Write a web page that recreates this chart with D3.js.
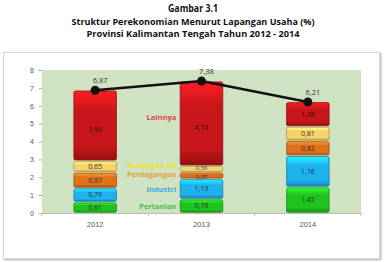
<!DOCTYPE html>
<html lang="id">
<head>
  <meta charset="UTF-8">
  <title>Struktur Perekonomian Kalimantan Tengah 2012 - 2014</title>
  <script src="https://d3js.org/d3.v7.min.js"></script>
  <style>
    body { margin: 0; background: #fff; }
    svg { display: block; font-family: "Open Sans", "Noto Sans", sans-serif; }
  </style>
</head>
<body>
<svg width="386" height="262"></svg>
<script>
  // data
  const years = ["2012", "2013", "2014"];
  const sectors = ["Pertanian", "Industri", "Perdagangan", "Keuangan dll", "Lainnya"];
  const pertanian = [0.61, 0.78, 1.45];
  const industri = [0.79, 1.13, 1.76];
  const perdagangan = [0.87, 0.37, 0.82];
  const keuangan = [0.65, 0.36, 0.81];
  const lainnya = [3.95, 4.74, 1.38];
  const totals = [6.87, 7.38, 6.21];
  const yTicks = [0, 1, 2, 3, 4, 5, 6, 7, 8];
  const colors = ["#1fc31f", "#1cb2ee", "#e0701c", "#f4d36a", "#c8161a"];
  const labelColors = ["#45c445", "#3fa9df", "#e2a336", "#f2e21a", "#e04848"];

  const svg = d3.select("svg");
  const margin = { top: 70, right: 25, bottom: 49, left: 42 };
  const width = +svg.attr("width");
  const height = +svg.attr("height");

  // chart frame with soft shadow
  const defs = svg.append("defs");
  const sh = defs.append("filter").attr("id", "shadow").attr("x", "-5%").attr("y", "-5%").attr("width", "110%").attr("height", "110%");
  sh.append("feDropShadow").attr("dx", 1).attr("dy", 1).attr("stdDeviation", 1).attr("flood-color", "#000").attr("flood-opacity", 0.35);
  svg.append("rect")
    .attr("x", 3.5).attr("y", 52.5).attr("width", 376).attr("height", 206)
    .attr("fill", "#fff").attr("stroke", "#d8d8d8").attr("filter", "url(#shadow)");

  // titles
  const titles = [
    { t: "Gambar 3.1", y: 12, size: 11, len: 50 },
    { t: "Struktur Perekonomian Menurut Lapangan Usaha (%)", y: 25, size: 9.5, len: 243 },
    { t: "Provinsi Kalimantan Tengah Tahun 2012 - 2014", y: 37, size: 9.5, len: 213 }
  ];
  titles.forEach(d => {
    svg.append("text")
      .attr("x", width / 2).attr("y", d.y)
      .attr("text-anchor", "middle")
      .attr("font-weight", "bold")
      .attr("font-size", d.size)
      .attr("fill", "#111")
      .attr("textLength", d.len)
      .attr("lengthAdjust", "spacingAndGlyphs")
      .text(d.t);
  });

  const x = d3.scaleBand()
    .domain(years)
    .range([margin.left, width - margin.right])
    .paddingInner(0.6).paddingOuter(0.3);

  const y = d3.scaleLinear()
    .domain([0, 8])
    .range([height - margin.bottom, margin.top]);

  // plot area
  svg.append("rect")
    .attr("x", margin.left).attr("y", margin.top)
    .attr("width", width - margin.right - margin.left)
    .attr("height", y(0) - margin.top)
    .attr("fill", "#cfe2c1");

  // y axis
  const yAxis = svg.append("g")
    .attr("transform", `translate(${margin.left},0)`)
    .call(d3.axisLeft(y).tickValues(yTicks).tickSize(3).tickPadding(5));
  yAxis.select(".domain").remove();
  yAxis.selectAll("line").attr("stroke", "#aaa");
  yAxis.selectAll("text").attr("font-size", 7).attr("fill", "#555");

  // x axis, ticks on category boundaries
  const xAxis = svg.append("g")
    .attr("transform", `translate(0,${y(0)})`)
    .call(d3.axisBottom(x).tickSize(0).tickPadding(9));
  xAxis.select(".domain").attr("stroke", "#bbb");
  xAxis.selectAll("text").attr("font-size", 7.5).attr("fill", "#555");
  const step = x.step();
  const bounds = [margin.left, margin.left + step * 1.0, margin.left + step * 2.0, width - margin.right];
  xAxis.selectAll(".bound").data(bounds).enter().append("line")
    .attr("x1", d => d).attr("x2", d => d).attr("y1", 0).attr("y2", 3)
    .attr("stroke", "#bbb");

  // bevel gradients
  colors.forEach((c, i) => {
    const g = defs.append("linearGradient").attr("id", "g" + i)
      .attr("x1", 0).attr("y1", 0).attr("x2", 0).attr("y2", 1);
    g.append("stop").attr("offset", "0%").attr("stop-color", d3.color(c).brighter(0.9));
    g.append("stop").attr("offset", "30%").attr("stop-color", c);
    g.append("stop").attr("offset", "80%").attr("stop-color", c);
    g.append("stop").attr("offset", "100%").attr("stop-color", d3.color(c).darker(0.8));
  });

  const table = years.map((yr, i) => ({
    year: yr,
    Pertanian: pertanian[i], Industri: industri[i], Perdagangan: perdagangan[i],
    "Keuangan dll": keuangan[i], Lainnya: lainnya[i]
  }));
  const series = d3.stack().keys(sectors)(table);

  // side labels next to the 2013 bar
  const shift = [0, 0, -1, -4, -6];
  series.forEach((s, i) => {
    const d = s[1];
    svg.append("text")
      .attr("x", x("2013") - 4)
      .attr("y", y((d[0] + d[1]) / 2) + shift[i])
      .attr("dy", "0.35em")
      .attr("text-anchor", "end")
      .attr("font-size", 7.5)
      .attr("font-weight", "bold")
      .attr("fill", labelColors[i])
      .text(sectors[i]);
  });

  // stacked bars
  series.forEach((s, i) => {
    const g = svg.append("g");
    g.selectAll("rect").data(s).enter().append("rect")
      .attr("x", d => x(d.data.year))
      .attr("y", d => y(d[1]) + 0.8)
      .attr("width", x.bandwidth())
      .attr("height", d => Math.max(0.5, y(d[0]) - y(d[1]) - 1.6))
      .attr("rx", 1.5)
      .attr("fill", "url(#g" + i + ")")
      .attr("stroke", d3.color(colors[i]).darker(0.9))
      .attr("stroke-width", 0.8);
    // thin segments get a smaller label, nudged apart
    const thin = d => d[1] - d[0] < 0.5;
    g.selectAll("text").data(s).enter().append("text")
      .attr("x", d => x(d.data.year) + x.bandwidth() / 2)
      .attr("y", d => y((d[0] + d[1]) / 2) + (d[1] - d[0] > 3 ? 4 : 0) + (thin(d) ? (i === 3 ? -1.5 : 1.5) : 0))
      .attr("dy", "0.35em")
      .attr("text-anchor", "middle")
      .attr("font-size", d => thin(d) ? 6 : 7)
      .attr("fill", i === 4 ? "#3a0a0a" : "#333")
      .text(d => d3.format(".2f")(d[1] - d[0]).replace(".", ","));
  });

  // total line
  const pts = years.map((yr, i) => [x(yr) + x.bandwidth() / 2, y(totals[i])]);
  svg.append("path")
    .attr("d", d3.line()(pts))
    .attr("fill", "none")
    .attr("stroke", "#111")
    .attr("stroke-width", 2.5);
  svg.selectAll(".dot").data(pts).enter().append("circle")
    .attr("cx", d => d[0]).attr("cy", d => d[1]).attr("r", 4.5)
    .attr("fill", "#111");
  svg.selectAll(".tot").data(totals).enter().append("text")
    .attr("x", (d, i) => pts[i][0] + 5)
    .attr("y", (d, i) => pts[i][1] - 10)
    .attr("dy", "0.35em")
    .attr("text-anchor", "middle")
    .attr("font-size", 7.5)
    .attr("fill", "#333")
    .text(d => d3.format(".2f")(d).replace(".", ","));
</script>
</body>
</html>
